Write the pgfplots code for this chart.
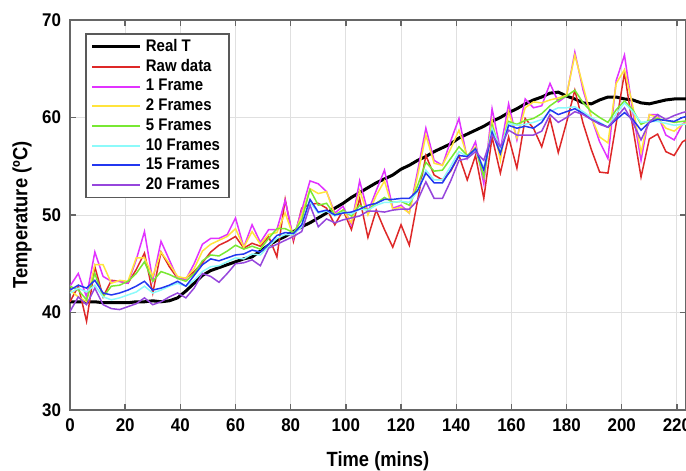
\documentclass[border=0pt]{standalone}
\usepackage{pgfplots}
\pgfplotsset{compat=1.18}
\usepackage{pgfplotstable}
\usepackage{fontspec}
\setmainfont{Liberation Sans}[FakeStretch=0.89]
\newfontfamily\tickfont{Liberation Sans}[FakeStretch=0.92]

\definecolor{cRaw}{RGB}{222,40,40}
\definecolor{cFa}{RGB}{225,50,255}
\definecolor{cFb}{RGB}{255,228,60}
\definecolor{cFc}{RGB}{120,232,50}
\definecolor{cFd}{RGB}{140,250,250}
\definecolor{cFe}{RGB}{35,55,240}
\definecolor{cFf}{RGB}{150,70,220}

\pgfplotstableread{
t real raw f1 f2 f5 f10 f15 f20
0 41.1 41.1 42.7 42.3 42.7 42.0 42.3 40.1
3 41.1 42.7 44.0 41.6 42.3 42.5 42.8 41.6
6 41.1 39.1 41.6 41.1 41.3 42.1 42.5 40.8
9 41.1 44.7 46.2 44.9 44.0 42.8 43.3 42.5
12 41.0 41.6 43.7 44.9 41.6 41.6 42.0 40.8
15 41.0 43.3 43.2 43.0 42.7 41.3 41.8 40.4
18 41.0 43.2 43.2 43.3 42.8 41.5 42.0 40.3
21 41.0 43.0 43.0 43.2 43.2 41.8 42.3 40.6
24 41.1 44.4 45.4 45.6 44.0 42.1 42.7 40.9
27 41.1 46.1 48.3 45.6 45.2 42.7 43.2 41.5
30 41.2 42.0 43.3 43.7 43.2 42.0 42.3 40.8
33 41.1 46.2 47.3 46.2 44.2 42.3 42.5 41.1
36 41.2 44.7 45.4 45.0 43.9 42.7 42.8 41.6
39 41.5 43.5 43.5 43.7 43.5 43.0 43.2 42.0
42 42.2 43.5 43.4 43.5 43.2 42.7 42.7 41.5
45 43.0 44.2 45.0 44.5 44.0 43.3 43.8 42.5
48 43.8 45.1 47.0 46.3 45.3 44.2 44.9 44.0
51 44.3 46.2 47.6 47.0 45.9 44.7 45.5 43.7
54 44.6 46.9 47.6 47.4 45.8 44.8 45.3 43.1
57 44.9 47.3 48.0 47.8 46.3 45.2 45.6 44.0
60 45.2 47.8 49.7 48.6 46.9 45.6 45.9 45.0
63 45.5 46.6 46.7 46.7 46.5 45.5 46.0 45.1
66 45.7 47.1 49.0 48.3 46.8 46.0 46.4 45.4
69 46.3 46.8 47.2 47.0 46.5 45.9 46.2 44.8
72 46.9 47.8 48.5 48.0 47.6 46.8 47.0 46.6
75 47.4 45.7 48.5 48.2 48.6 47.6 47.9 47.0
78 47.8 51.6 51.5 50.2 48.6 48.0 48.2 47.4
81 48.3 47.3 47.6 47.8 48.2 48.0 48.1 47.8
84 48.8 50.7 50.5 50.0 49.5 48.8 49.0 48.3
87 49.2 51.1 53.5 52.7 52.6 51.3 51.6 51.0
90 49.7 51.2 53.2 52.2 51.0 50.2 50.3 48.8
93 50.2 50.7 52.4 52.4 51.2 50.4 50.5 49.6
96 50.7 49.0 50.2 50.0 50.0 49.9 50.0 49.2
99 51.2 50.5 50.9 50.5 50.5 50.3 50.2 49.5
102 51.8 48.5 49.0 49.2 49.9 50.1 50.3 49.7
105 52.3 51.7 53.5 52.5 51.0 50.6 50.6 49.9
108 52.8 47.7 50.3 50.0 50.5 50.5 51.0 50.4
111 53.3 50.5 52.5 52.0 51.2 51.0 51.2 50.4
114 53.7 48.5 54.6 53.5 51.8 51.3 51.6 50.3
117 54.1 46.7 50.7 50.6 51.3 51.3 51.6 50.5
120 54.7 49.0 51.0 50.8 51.4 51.4 51.7 50.6
123 55.1 46.9 50.2 50.2 51.0 51.3 51.7 50.6
126 55.6 51.5 54.5 54.0 53.0 52.4 52.5 51.5
129 56.0 56.1 58.9 58.2 55.4 54.6 54.3 53.4
132 56.5 54.1 55.6 55.3 54.5 53.6 53.3 51.7
135 56.9 53.6 55.1 55.1 54.6 53.6 53.3 51.7
138 57.3 54.5 57.6 56.8 55.8 55.0 54.6 53.5
141 57.9 56.1 59.9 58.7 57.0 56.5 56.1 55.6
144 58.3 53.6 55.8 56.0 56.1 56.0 56.0 55.8
147 58.7 56.1 57.5 57.0 56.8 56.7 56.8 56.5
150 59.1 51.7 53.2 53.9 53.9 54.8 54.6 55.6
153 59.6 58.0 60.9 59.7 59.2 58.9 58.5 58.2
156 60.0 54.3 56.7 55.6 56.6 56.8 56.3 57.0
159 60.5 58.0 61.4 60.6 59.6 59.4 59.2 58.7
162 60.9 54.8 57.7 57.9 59.3 59.2 58.9 58.2
165 61.4 59.9 61.9 61.0 59.7 59.3 59.1 58.2
168 61.8 58.9 61.0 61.6 59.9 59.5 58.9 58.2
171 62.1 57.0 61.2 61.5 60.4 59.8 59.5 58.6
174 62.5 59.9 63.5 61.8 61.2 60.6 60.8 60.3
177 62.6 56.4 61.6 62.0 61.8 61.0 60.3 59.5
180 62.2 59.5 62.2 62.3 62.2 61.0 60.6 60.0
183 61.9 62.8 66.7 66.4 62.8 61.1 60.9 60.6
186 61.5 59.4 62.8 63.2 61.5 60.6 60.4 60.3
189 61.4 56.7 60.0 60.0 60.6 60.0 59.8 59.8
192 61.8 54.4 57.5 58.0 60.0 59.5 59.4 59.3
195 62.1 54.3 55.8 57.4 59.5 59.0 59.0 59.0
198 62.1 59.4 63.8 63.5 60.8 60.4 59.8 60.0
201 61.9 64.6 66.4 64.9 61.7 61.5 60.5 61.0
204 61.8 59.0 60.6 61.2 60.8 60.6 59.8 59.5
207 61.5 53.9 55.6 56.4 59.3 59.5 58.7 57.7
210 61.4 57.8 60.3 60.3 59.7 59.6 59.5 59.5
213 61.6 58.3 60.3 60.0 59.9 59.6 59.8 60.3
216 61.8 56.5 58.2 58.9 59.7 59.4 59.7 59.8
219 61.9 56.1 57.7 58.6 59.5 59.2 59.6 60.2
222 61.9 57.5 59.3 59.3 59.6 59.3 60.0 60.5
225 61.9 58.0 60.0 59.6 59.7 59.3 60.2 60.7
}\datatable

\begin{document}
\begin{tikzpicture}
\useasboundingbox (-35pt,-30.5pt) rectangle (308pt,205pt);
\begin{axis}[
  at={(0pt,0pt)}, anchor=south west,
  scale only axis, width=308pt, height=195pt,
  xmin=0, xmax=223.3, ymin=30, ymax=70,
  xtick={0,20,...,220}, ytick={30,40,...,70},
  grid=major, grid style={black!12, line width=0.5pt},
  axis line style={draw=black!60, line width=0.8pt},
  tick style={draw=black!60, line width=0.7pt},
  tick align=inside, major tick length=2.8pt,
  /pgf/number format/assume math mode=true,
  tick label style={font=\tickfont\fontsize{9.2}{10}\selectfont\bfseries},
  xticklabel style={yshift=-1pt},
  yticklabel style={xshift=-1pt},
  xlabel={Time (mins)}, ylabel={Temperature (ºC)},
  label style={font=\fontsize{10.3}{12}\selectfont\bfseries},
  xlabel style={at={(axis description cs:0.5,-0.13)}, anchor=center},
  ylabel style={at={(axis description cs:-0.078,0.5)}, anchor=center, rotate=0},
  legend style={at={(axis description cs:0.0244,0.9667)}, anchor=north west,
    draw, color=black!65, text=black, line width=0.9pt, fill=white,
    font=\fontsize{8.4}{9.4}\selectfont\bfseries,
    inner xsep=2.5pt, inner ysep=0.6pt, row sep=-1.5pt},
  legend cell align=left,
  legend image code/.code={\draw[#1] (0pt,0pt) -- (24pt,0pt);},
]
\addplot[black, line width=1.5pt] table[x=t,y=real]{\datatable};
\addlegendentry{Real T}
\addplot[cRaw, line width=0.75pt, legend image post style={line width=1pt}] table[x=t,y=raw]{\datatable};
\addlegendentry{Raw data}
\addplot[cFa, line width=0.75pt, legend image post style={line width=1pt}] table[x=t,y=f1]{\datatable};
\addlegendentry{1 Frame}
\addplot[cFb, line width=0.75pt, legend image post style={line width=1pt}] table[x=t,y=f2]{\datatable};
\addlegendentry{2 Frames}
\addplot[cFc, line width=0.75pt, legend image post style={line width=1pt}] table[x=t,y=f5]{\datatable};
\addlegendentry{5 Frames}
\addplot[cFd, line width=0.75pt, legend image post style={line width=1pt}] table[x=t,y=f10]{\datatable};
\addlegendentry{10 Frames}
\addplot[cFe, line width=0.75pt, legend image post style={line width=1pt}] table[x=t,y=f15]{\datatable};
\addlegendentry{15 Frames}
\addplot[cFf, line width=0.75pt, legend image post style={line width=1pt}] table[x=t,y=f20]{\datatable};
\addlegendentry{20 Frames}
\end{axis}
\end{tikzpicture}
\end{document}
